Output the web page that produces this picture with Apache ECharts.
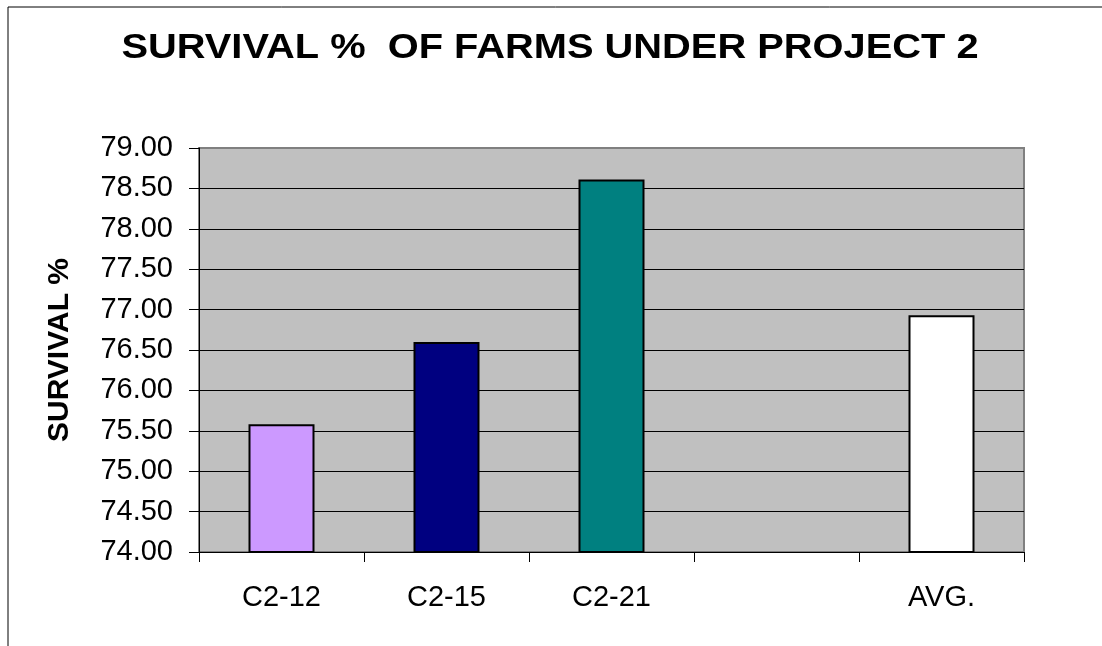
<!DOCTYPE html>
<html>
<head>
<meta charset="utf-8">
<script src="https://cdn.jsdelivr.net/npm/echarts@6/dist/echarts.min.js"></script>
<style>
  html, body { margin: 0; padding: 0; background: #fff; }
  #chart { width: 1102px; height: 646px; }
</style>
</head>
<body>
<div id="chart"></div>
<script>
const categories = ['C2-12', 'C2-15', 'C2-21', '', 'AVG.']
const survival = [75.58, 76.6, 78.61, null, 76.93]
const barColors = ['#CC99FF', '#000080', '#008080', '#FFFFFF', '#FFFFFF']
const titleText = 'SURVIVAL %  OF FARMS UNDER PROJECT 2'

const FONT = '"Liberation Sans", Arial, sans-serif'

const chart = echarts.init(document.getElementById('chart'), null, { renderer: 'canvas' })

chart.setOption({
  animation: false,
  graphic: [
    {
      type: 'rect',
      shape: { x: 8, y: 7, width: 1300, height: 900 },
      style: { fill: 'none', stroke: '#000', lineWidth: 1 },
      silent: true
    },
    {
      // title, stretched a little wider like the original
      type: 'text',
      x: 550,
      y: 48,
      scaleX: 1.138,
      style: {
        text: titleText,
        fontFamily: FONT,
        fontSize: 35,
        fontWeight: 'bold',
        fill: '#000',
        align: 'center',
        verticalAlign: 'middle'
      },
      silent: true
    }
  ],
  grid: {
    left: 199, top: 148, right: 78, bottom: 94,
    show: true,
    backgroundColor: '#C0C0C0',
    borderColor: '#808080',
    borderWidth: 2
  },
  xAxis: {
    type: 'category',
    data: categories,
    axisLine: { lineStyle: { color: '#000', width: 1 } },
    axisTick: { show: true, length: 10, lineStyle: { color: '#000' } },
    axisLabel: { margin: 31, fontFamily: FONT, fontSize: 29, color: '#000' }
  },
  yAxis: {
    type: 'value',
    min: 74,
    max: 79,
    interval: 0.5,
    name: 'SURVIVAL %',
    nameLocation: 'middle',
    nameGap: 124,
    nameRotate: 90,
    nameTextStyle: { fontFamily: FONT, fontSize: 30, fontWeight: 'bold', color: '#000' },
    axisLine: { show: true, lineStyle: { color: '#000', width: 1 } },
    axisTick: { show: true, length: 10, lineStyle: { color: '#000' } },
    axisLabel: {
      margin: 26, fontFamily: FONT, fontSize: 29, color: '#000',
      formatter: v => v.toFixed(2)
    },
    splitLine: { show: true, showMinLine: false, showMaxLine: false, lineStyle: { color: '#000', width: 1 } }
  },
  series: [{
    type: 'bar',
    barWidth: 66,
    data: survival.map((v, i) => ({
      value: v,
      itemStyle: { color: barColors[i], borderColor: '#000', borderWidth: 2 }
    }))
  }]
})
</script>
</body>
</html>
